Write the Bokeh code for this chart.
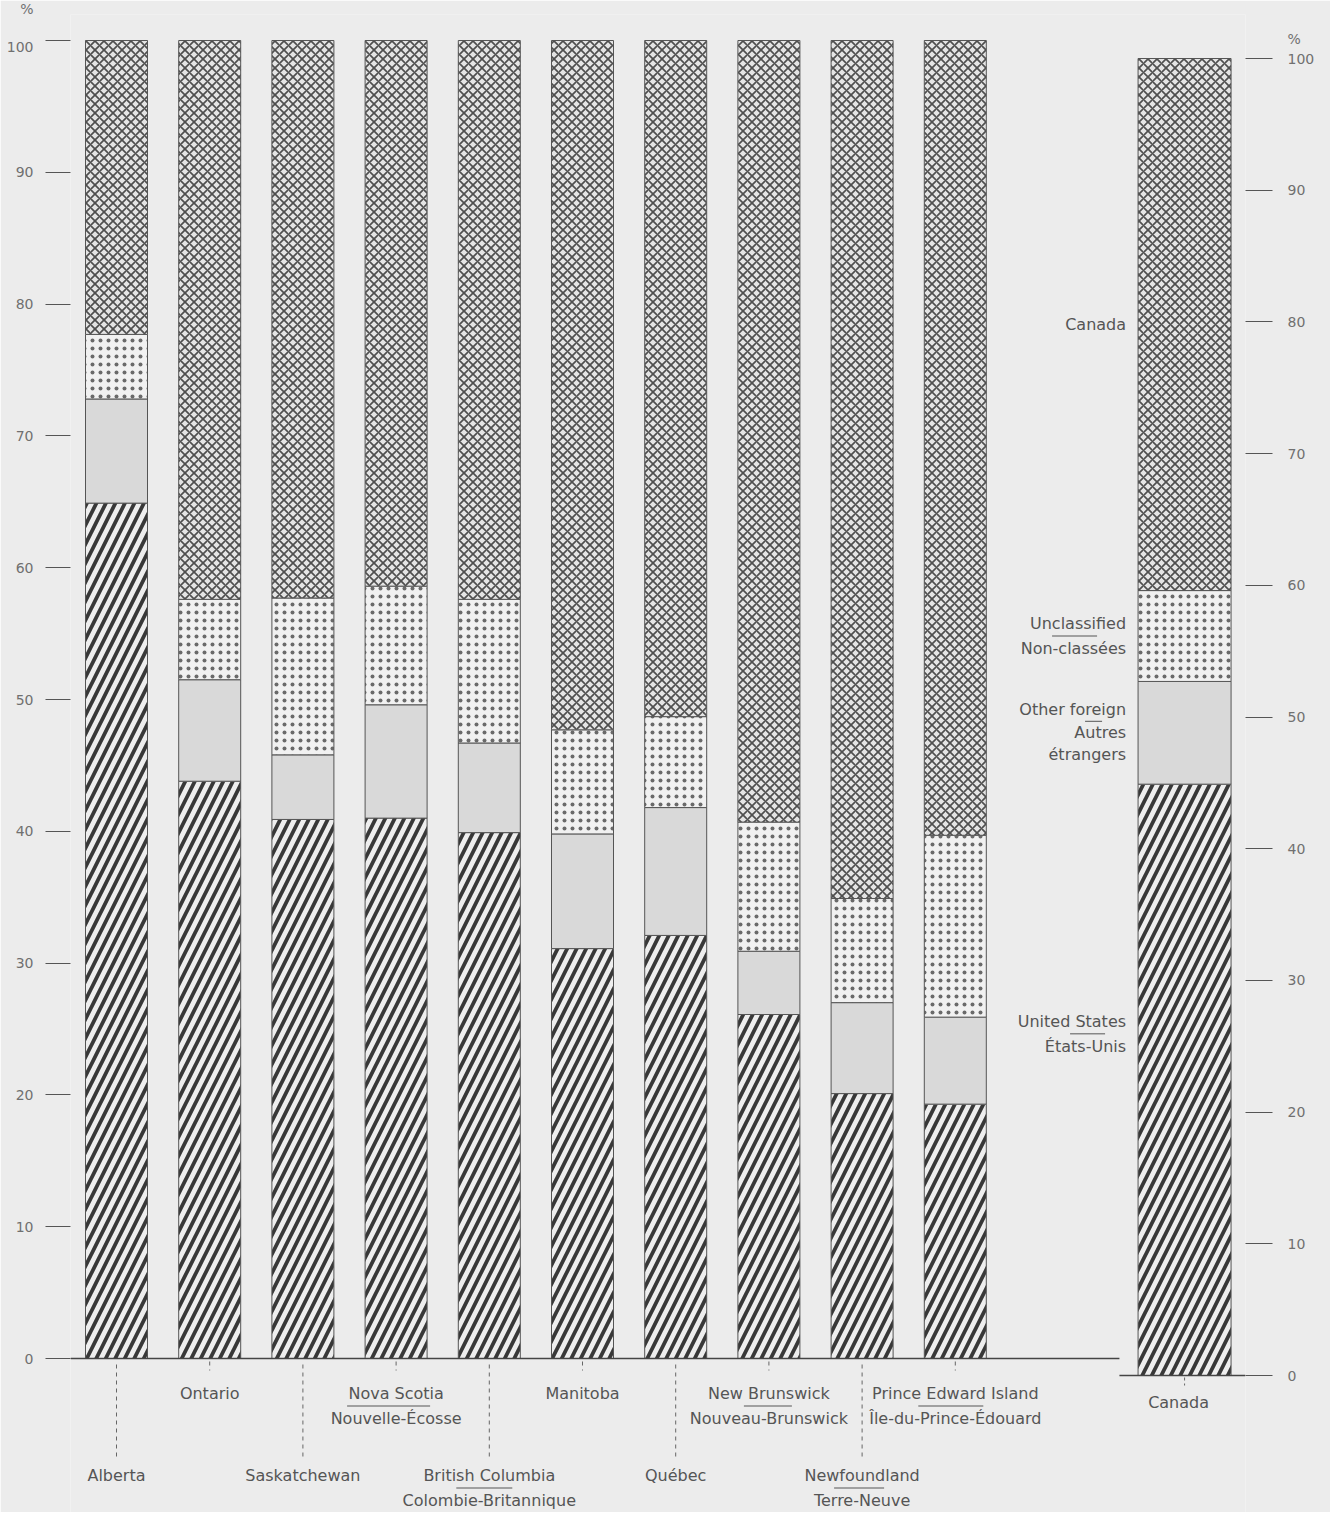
from bokeh.plotting import figure
from bokeh.models import Range1d, LinearAxis, FixedTicker
from bokeh.embed import file_html
from bokeh.resources import INLINE
from bokeh.core.properties import value

# ---------------- data (percent of total) ----------------
provinces_en = ["Alberta", "Ontario", "Saskatchewan", "Nova Scotia", "British Columbia",
                "Manitoba", "Québec", "New Brunswick", "Newfoundland", "Prince Edward Island"]
provinces_fr = ["", "", "", "Nouvelle-Écosse", "Colombie-Britannique",
                "", "", "Nouveau-Brunswick", "Terre-Neuve", "Île-du-Prince-Édouard"]
united_states = [64.9, 43.8, 40.9, 41.0, 39.9, 31.1, 32.1, 26.1, 20.1, 19.3]
other_foreign = [7.9, 7.7, 4.9, 8.6, 6.8, 8.7, 9.7, 4.8, 6.9, 6.6]
unclassified = [4.9, 6.1, 11.9, 9.0, 10.9, 7.9, 6.9, 9.8, 7.9, 13.8]
canadian = [22.3, 42.4, 42.3, 41.4, 42.4, 52.3, 51.3, 59.3, 65.1, 60.3]

total_label = "Canada"
total_us = 44.9
total_other = 7.8
total_unclassified = 6.9
total_canadian = 40.4

y_ticks = [0, 10, 20, 30, 40, 50, 60, 70, 80, 90, 100]

# ---------------- layout ----------------
W, H = 1330, 1512
BL, BT = 70, 14
BR = W - 1245
FRAME_W = W - BL - BR
FRAME_H = H - BT
PX_X = 93.2          # px per bar slot
PX_Y = 13.18         # px per percent (left scale)
PX_YR = 13.17        # px per percent (right scale)
x_start = -46 / PX_X
x_end = x_start + FRAME_W / PX_X
y_end = (1358 - BT) / PX_Y
y_start = y_end - FRAME_H / PX_Y
yr_end = (1375 - BT) / PX_YR
yr_start = yr_end - FRAME_H / PX_YR

BG = "#ececec"
TXT = "#555555"
FONT_NAME = "DejaVu Sans"
FONT = value(FONT_NAME)
FS = "16px"

n = len(provinces_en)
xs = list(range(n))
bar_w = 62 / PX_X
canada_x = (n - 1) + 2.46
canada_w = 93 / PX_X

p = figure(width=W, height=H, x_range=Range1d(x_start, x_end), y_range=Range1d(y_start, y_end),
           output_backend="svg", toolbar_location=None, x_axis_location=None,
           min_border_left=BL, min_border_right=BR, min_border_top=BT, min_border_bottom=0,
           background_fill_color=BG, border_fill_color=BG, outline_line_color=None)
p.extra_y_ranges = {"right": Range1d(yr_start, yr_end)}
p.grid.visible = False

def style_axis(ax, tick_out, standoff, pct):
    ax.ticker = FixedTicker(ticks=y_ticks)
    ax.axis_line_color = None
    ax.major_tick_in = 0
    ax.major_tick_out = tick_out
    ax.minor_tick_line_color = None
    ax.major_tick_line_color = "#555555"
    ax.major_tick_line_width = 1
    ax.major_label_standoff = standoff
    ax.major_label_text_font = FONT_NAME
    ax.major_label_text_font_size = "14px"
    ax.major_label_text_color = "#707070"
    ax.major_label_overrides = {100: pct}

style_axis(p.yaxis[0], 25, 12, "%\n\n100\n\n")
raxis = LinearAxis(y_range_name="right")
style_axis(raxis, 27, 15, "%\n100\n")
p.add_layout(raxis, "right")

# ---------------- stacked bars ----------------
def stack(us, of, un, ca):
    b1 = [0.0] * len(us)
    t1 = [a for a in us]
    t2 = [a + b for a, b in zip(t1, of)]
    t3 = [a + b for a, b in zip(t2, un)]
    t4 = [a + b for a, b in zip(t3, ca)]
    return b1, t1, t2, t3, t4

styles = [
    dict(fill_color="#eeeeee", hatch_pattern="right_diagonal_line", hatch_scale=19,
         hatch_weight=3.8, hatch_color="#383838"),
    dict(fill_color="#d9d9d9"),
    dict(fill_color="#f1f1f1", hatch_pattern="dot", hatch_scale=8, hatch_weight=1.0,
         hatch_color="#6a6a6a"),
    dict(fill_color="#e4e4e4", hatch_pattern="diagonal_cross", hatch_scale=9,
         hatch_weight=1.7, hatch_color="#4f4f4f"),
]

b0, t1, t2, t3, t4 = stack(united_states, other_foreign, unclassified, canadian)
levels = [b0, t1, t2, t3, t4]
for k, st in enumerate(styles):
    p.vbar(x=xs, width=bar_w, bottom=levels[k], top=levels[k + 1],
           line_color="#555555", line_width=1, **st)

cb0, ct1, ct2, ct3, ct4 = stack([total_us], [total_other], [total_unclassified], [total_canadian])
clevels = [cb0, ct1, ct2, ct3, ct4]
for k, st in enumerate(styles):
    p.vbar(x=[canada_x], width=canada_w, bottom=clevels[k], top=clevels[k + 1],
           line_color="#555555", line_width=1, y_range_name="right", **st)

# baselines
split_x = canada_x - canada_w / 2 - 0.2
p.segment(x0=[x_start], y0=[0], x1=[split_x], y1=[0],
          line_color="#444444", line_width=1.3)
p.segment(x0=[split_x], y0=[0], x1=[x_end], y1=[0],
          line_color="#444444", line_width=1.3, y_range_name="right")

# ---------------- category labels ----------------
def dy(px):
    return -px / PX_Y

lab_x, lab_y, lab_t = [], [], []
lead_x, lead_y0, lead_y1 = [], [], []
ul_x0, ul_x1, ul_y = [], [], []
underline_px = {"Nova Scotia": (-49, 34), "British Columbia": (-33, 23),
                "New Brunswick": (-25, 23), "Newfoundland": (-28, 22),
                "Prince Edward Island": (-37, 28)}
for i, (en, fr) in enumerate(zip(provinces_en, provinces_fr)):
    low = (i % 2 == 0)
    first = dy(117) if low else dy(35)
    lab_x.append(i); lab_y.append(first); lab_t.append(en)
    if fr:
        lab_x.append(i); lab_y.append(first + dy(25)); lab_t.append(fr)
        a, b = underline_px[en]
        ul_x0.append(i + a / PX_X); ul_x1.append(i + b / PX_X); ul_y.append(first + dy(12.5))
    lead_x.append(i)
    lead_y0.append(dy(6) if low else dy(3))
    lead_y1.append(dy(100) if low else dy(12))

p.text(x=lab_x, y=lab_y, text=lab_t, text_font=FONT, text_font_size=FS,
       text_color=TXT, text_align="center", text_baseline="middle")
p.segment(x0=lead_x, y0=lead_y0, x1=lead_x, y1=lead_y1, line_color="#666666",
          line_width=1, line_dash="4 4")
p.segment(x0=ul_x0, y0=ul_y, x1=ul_x1, y1=ul_y, line_color="#555555", line_width=1)

# Canada label under its bar (right scale)
p.text(x=[canada_x - 6 / PX_X], y=[-27 / PX_YR], text=[total_label], text_font=FONT,
       text_font_size=FS, text_color=TXT, text_align="center", text_baseline="middle",
       y_range_name="right")
p.segment(x0=[canada_x], y0=[-2 / PX_YR], x1=[canada_x], y1=[-10 / PX_YR],
          line_color="#666666", line_width=1, line_dash="3 3", y_range_name="right")

# ---------------- series labels beside the Canada bar ----------------
rx = canada_x - canada_w / 2 - 12 / PX_X
mid_ca = (ct3[0] + ct4[0]) / 2
mid_un = (ct2[0] + ct3[0]) / 2
mid_of = (ct1[0] + ct2[0]) / 2
mid_us = (cb0[0] + ct1[0]) / 2 + 46 / PX_YR

def r(px):
    return -px / PX_YR

ser_t = ["Canada", "Unclassified", "Non-classées", "Other foreign", "Autres", "étrangers",
         "United States", "États-Unis"]
ser_y = [mid_ca, mid_un - r(12.5), mid_un + r(12.5), mid_of - r(23), mid_of, mid_of + r(22),
         mid_us - r(12.5), mid_us + r(12.5)]
p.text(x=[rx] * len(ser_t), y=ser_y, text=ser_t, text_font=FONT, text_font_size=FS,
       text_color=TXT, text_align="right", text_baseline="middle", y_range_name="right")
ser_ul = [(mid_un, -74, -29), (mid_of - r(11.5), -41, -24), (mid_us, -56, -21)]
p.segment(x0=[rx + a / PX_X for _, a, _ in ser_ul], y0=[y for y, _, _ in ser_ul],
          x1=[rx + b / PX_X for _, _, b in ser_ul], y1=[y for y, _, _ in ser_ul],
          line_color="#555555", line_width=1, y_range_name="right")

open("out.html", "w").write(file_html(p, INLINE))
